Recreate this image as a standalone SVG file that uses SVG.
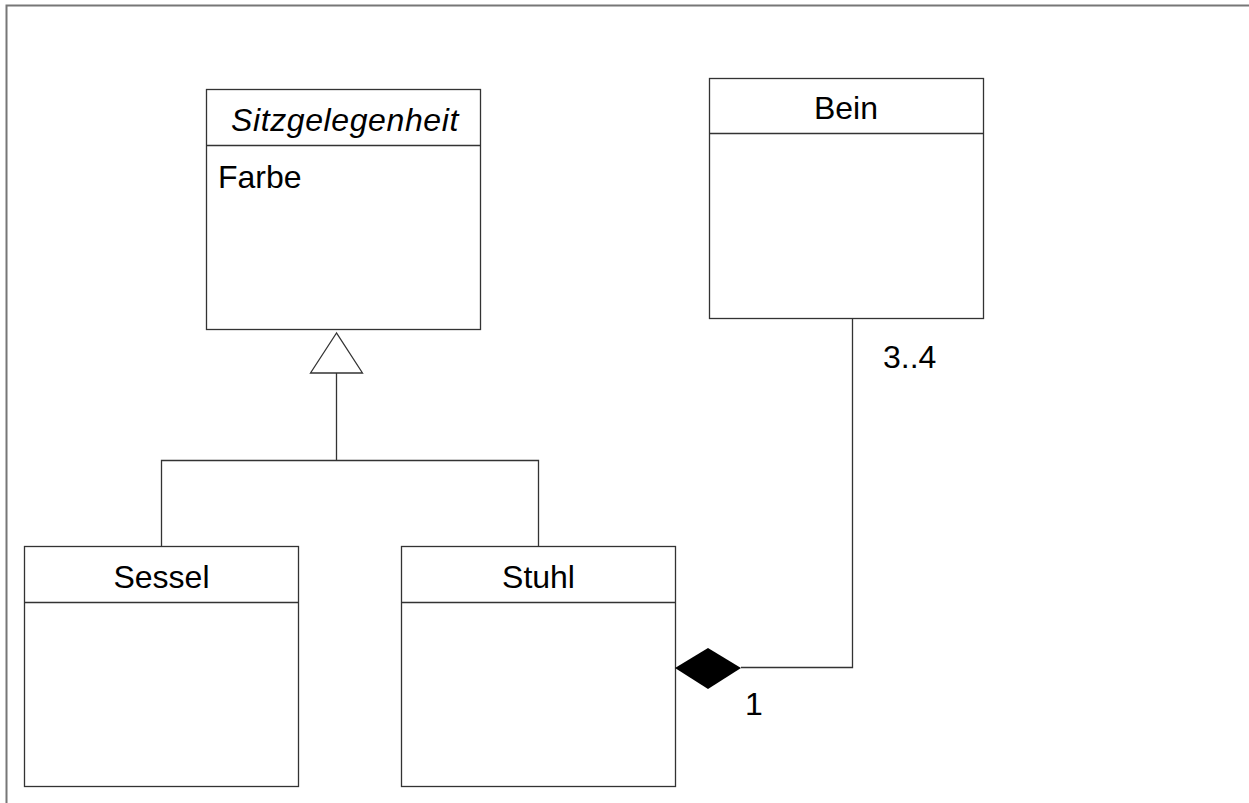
<svg xmlns="http://www.w3.org/2000/svg" width="1249" height="803" viewBox="0 0 1249 803">
<style>
.box{fill:#fff;stroke:#333;stroke-width:1.3}
.ln{fill:none;stroke:#333;stroke-width:1.3}
text{font-family:"Liberation Sans",Arial,sans-serif;font-size:32px;fill:#000}
.c{text-anchor:middle}
</style>
<rect width="1249" height="803" fill="#fff"/>
<path d="M6.5 803 V5.5 H1249" fill="none" stroke="#777" stroke-width="2"/>
<g id="Sitzgelegenheit">
<rect class="box" x="206.5" y="89.5" width="274" height="240"/>
<line class="ln" x1="206.5" y1="145.5" x2="480.5" y2="145.5"/>
<text class="c" x="345" y="131" font-style="italic" letter-spacing="0.6">Sitzgelegenheit</text>
<text x="218" y="188">Farbe</text>
</g>
<g id="Bein">
<rect class="box" x="709.5" y="78.5" width="274" height="240"/>
<line class="ln" x1="709.5" y1="133.5" x2="983.5" y2="133.5"/>
<text class="c" x="846" y="119">Bein</text>
</g>
<g id="Sessel">
<rect class="box" x="24.5" y="546.5" width="274" height="240"/>
<line class="ln" x1="24.5" y1="602.5" x2="298.5" y2="602.5"/>
<text class="c" x="161.5" y="588">Sessel</text>
</g>
<g id="Stuhl">
<rect class="box" x="401.5" y="546.5" width="274" height="240"/>
<line class="ln" x1="401.5" y1="602.5" x2="675.5" y2="602.5"/>
<text class="c" x="538.5" y="588">Stuhl</text>
</g>
<g id="connectors">
<path class="ln" d="M161.5 546.5 V460.5 H538.5 V546.5 M336.5 460.5 V373"/>
<polygon points="336.5,333 310.5,373 362.5,373" fill="#fff" stroke="#333" stroke-width="1.3"/>
<path class="ln" d="M852.5 318.5 V667.5 H741"/>
<polygon points="675,668 708,648 741,668 708,689" fill="#000"/>
<text x="883" y="368">3..4</text>
<text x="745" y="715">1</text>
</g>
</svg>
